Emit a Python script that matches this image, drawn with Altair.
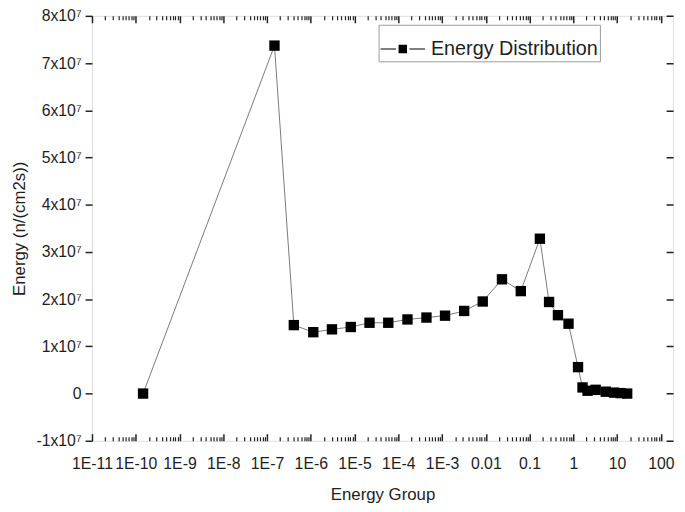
import altair as alt
import pandas as pd

# ---- data ----
energy_group = [1.47e-10, 1.48e-7, 4.1e-7, 1.14e-6, 3.05e-6, 8.2e-6, 2.2e-5, 5.9e-5,
                1.62e-4, 4.4e-4, 1.17e-3, 3.2e-3, 8.5e-3, 0.0234, 0.063, 0.172,
                0.279, 0.445, 0.776, 1.28, 1.62, 2.11, 3.24, 5.5, 8.5, 12.0, 17.0]
energy_e7 = [0.0, 7.37, 1.45, 1.30, 1.36, 1.41, 1.50, 1.50,
             1.57, 1.61, 1.65, 1.75, 1.95, 2.42, 2.17, 3.28,
             1.94, 1.66, 1.48, 0.56, 0.13, 0.06, 0.08, 0.04, 0.02, 0.01, 0.0]
series_name = "Energy Distribution"

x_major_values = [1e-11, 1e-10, 1e-9, 1e-8, 1e-7, 1e-6, 1e-5, 1e-4, 1e-3, 0.01, 0.1, 1, 10, 100]
x_major_labels = ["1E-11", "1E-10", "1E-9", "1E-8", "1E-7", "1E-6", "1E-5", "1E-4",
                  "1E-3", "0.01", "0.1", "1", "10", "100"]
x_minor_mults = [2, 3, 4, 5, 6, 7, 8, 9]

y_major_values = [-1e7, 0, 1e7, 2e7, 3e7, 4e7, 5e7, 6e7, 7e7, 8e7]
y_major_labels = ["-1x10\u2077", "0", "1x10\u2077", "2x10\u2077", "3x10\u2077", "4x10\u2077",
                  "5x10\u2077", "6x10\u2077", "7x10\u2077", "8x10\u2077"]

df = pd.DataFrame({
    "x": energy_group,
    "y": [v * 1e7 for v in energy_e7],
    "series": [series_name] * len(energy_group),
})

W, H = 588, 430
FONT = "Liberation Sans"
TXT = "#1e1e1e"

x_values = []
for v in x_major_values[:-1]:
    x_values.append(v)
    x_values.extend([m * v for m in x_minor_mults])
x_values.append(x_major_values[-1])

y_values = []
for i, v in enumerate(y_major_values):
    y_values.append(v)
    if i < len(y_major_values) - 1:
        y_values.append(v + 0.5e7)


def js_list(items):
    return "[" + ",".join(repr(i) if not isinstance(i, str) else "'" + i + "'" for i in items) + "]"


x_label_expr = (f"indexof({js_list(x_major_values)}, datum.value) >= 0 ? "
                f"{js_list(x_major_labels)}[indexof({js_list(x_major_values)}, datum.value)] : ''")
y_label_expr = (f"indexof({js_list(y_major_values)}, datum.value) >= 0 ? "
                f"{js_list(y_major_labels)}[indexof({js_list(y_major_values)}, datum.value)] : ''")
x_is_major = f"indexof({js_list(x_major_values)}, datum.value) >= 0"
y_is_major = f"indexof({js_list(y_major_values)}, datum.value) >= 0"

x_scale = alt.Scale(type="log", domain=[1e-11, 190], nice=False)
y_scale = alt.Scale(domain=[-1e7, 8e7], nice=False, zero=False)

x_axis = alt.Axis(
    values=x_values, labelExpr=x_label_expr, labelOverlap=False, labelFlush=False,
    ticks=False, domain=False,
    grid=True, gridColor="#222222",
    gridDash={"condition": {"test": x_is_major, "value": [7, H - 14]}, "value": [4, H - 8]},
    gridWidth={"condition": {"test": x_is_major, "value": 1.5}, "value": 1.2},
    labelFont=FONT, labelFontSize=16, labelColor=TXT, labelPadding=15,
    title="Energy Group", titleFont=FONT, titleFontSize=17, titleFontWeight="normal",
    titleColor=TXT, titlePadding=15,
)
y_axis = alt.Axis(
    values=y_values, labelExpr=y_label_expr, labelOverlap=False, labelFlush=False, domain=False,
    ticks=True, tickColor="#222222",
    tickSize={"condition": {"test": y_is_major, "value": 7}, "value": 4},
    tickWidth=1.5,
    grid=True, gridColor="#222222",
    gridDash={"condition": {"test": y_is_major, "value": [0, W - 7, 7, 0]}, "value": [0, W - 4, 4, 0]},
    gridWidth=1.5,
    labelFont=FONT, labelFontSize=16, labelColor=TXT, labelPadding=4,
    title="Energy (n/(cm2s))", titleFont=FONT, titleFontSize=17, titleFontWeight="normal",
    titleColor=TXT, titlePadding=7,
)

legend_symbol = ("M-1,-0.025H-0.3V0.025H-1Z M0.3,-0.025H1V0.025H0.3Z "
                 "M-0.19,-0.19H0.19V0.19H-0.19Z")

base = alt.Chart(df)
line = base.mark_line(color="#7a7a7a", strokeWidth=1).encode(
    x=alt.X("x:Q", scale=x_scale, axis=x_axis),
    y=alt.Y("y:Q", scale=y_scale, axis=y_axis),
)
points = base.mark_point(shape="square", filled=True, size=110, opacity=1).encode(
    x=alt.X("x:Q", scale=x_scale),
    y=alt.Y("y:Q", scale=y_scale),
    color=alt.Color(
        "series:N",
        scale=alt.Scale(range=["#000000"]),
        legend=alt.Legend(
            title=None, orient="none", legendX=290, legendY=9,
            symbolType=legend_symbol, symbolSize=2025, symbolStrokeWidth=0,
            labelFont=FONT, labelFontSize=20, labelColor=TXT, labelOffset=6,
            labelLimit=400,
            strokeColor="#9a9a9a", padding=2, fillColor="white",
        ),
    ),
)

chart = alt.layer(line, points).properties(
    width=W, height=H,
    autosize=alt.AutoSizeParams(type="none"),
    padding={"left": 85, "top": 5, "right": 4, "bottom": 60},
).configure_view(stroke="#222222", strokeWidth=1.5).configure(background="white")

chart.save("out.html", embed_options={"renderer": "svg", "actions": False})
